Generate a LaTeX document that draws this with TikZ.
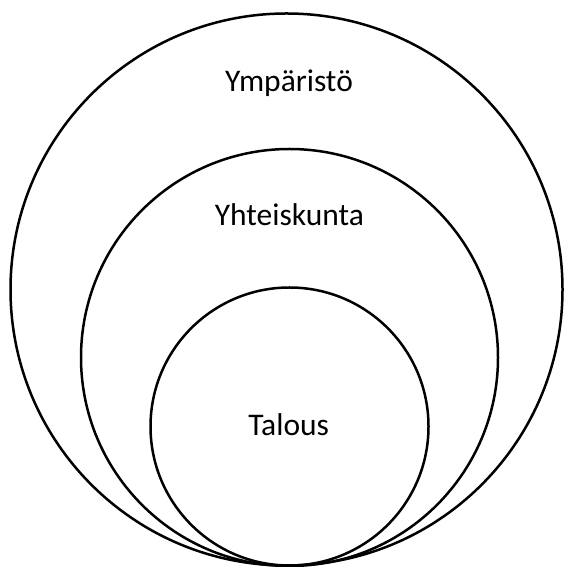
\documentclass[tikz,border=0pt]{standalone}
\usepackage{fontspec}
\setmainfont{Carlito}
\usepackage{tikz}

\begin{document}
\begin{tikzpicture}[x=1pt,y=1pt]
			%%%%% START %%%%%
			\useasboundingbox (0, 0) rectangle (563, 567);
			
			\draw[line width=2.5pt] (286.5, 277.5) circle (276pt);
			\draw[line width=2.5pt] (289.5, 209.5) circle (208.5pt);
			\draw[line width=2.5pt] (289.5, 140.5) circle (139pt);
			
			\node[anchor=base, font=\fontsize{31.5}{36}\selectfont] (ymparisto) at (289, 475.4) {Ympäristö};
			\node[anchor=base, font=\fontsize{31.5}{36}\selectfont] (yhteiskunta) at (289.4, 341.5) {Yhteiskunta};
			\node[anchor=base, font=\fontsize{31.5}{36}\selectfont] (talous) at (288.7, 131) {Talous};
			
			%%%%% END %%%%%
\end{tikzpicture}
\end{document}
